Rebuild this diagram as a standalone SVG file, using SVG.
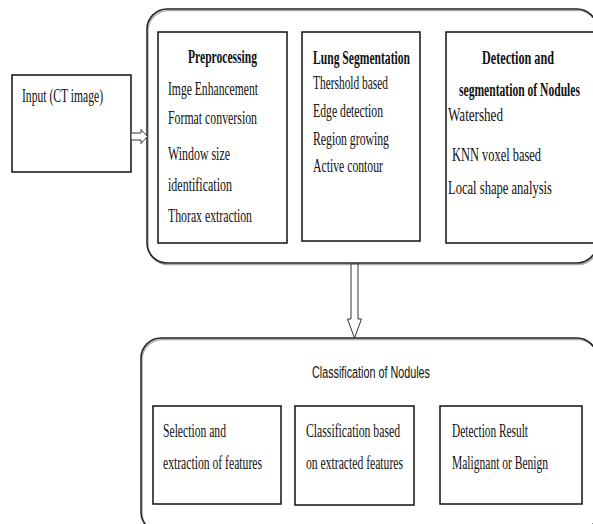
<svg xmlns="http://www.w3.org/2000/svg" width="593" height="524" viewBox="0 0 593 524">
<style>
.box{fill:#fff;stroke:#111;stroke-width:1.5}
.cont{fill:none;stroke:#222;stroke-width:1.5}
.shadow{fill:none;stroke:#aaa;stroke-width:1.5}
.t{font-family:"Liberation Serif","Times New Roman",serif;font-size:18.5px;fill:#111}
.b{font-family:"Liberation Serif","Times New Roman",serif;font-size:18.5px;font-weight:bold;fill:#111}
.s{font-family:"Liberation Sans",Arial,sans-serif;font-size:16px;fill:#111}
.arr{fill:#fff;stroke:#333;stroke-width:1}
</style>
<rect width="593" height="524" fill="#fff"/>
<g id="stage1">
<rect class="shadow" x="148" y="10.5" width="450" height="254" rx="20"/>
<rect class="cont" x="147" y="9" width="450" height="254" rx="20"/>
</g>
<g id="stage2">
<rect class="shadow" x="142" y="339.5" width="456" height="194" rx="20"/>
<rect class="cont" x="141" y="338" width="456" height="194" rx="20"/>
<text class="s" x="312" y="378" textLength="118" lengthAdjust="spacingAndGlyphs">Classification of Nodules</text>
</g>
<g id="input">
<rect class="box" x="12" y="75" width="119" height="97"/>
<text class="t" x="22" y="102" textLength="81" lengthAdjust="spacingAndGlyphs">Input (CT image)</text>
</g>
<g id="preprocessing">
<rect class="box" x="158" y="32" width="129" height="211"/>
<text class="b" x="188" y="63" textLength="69" lengthAdjust="spacingAndGlyphs">Preprocessing</text>
<text class="t" x="168" y="95" textLength="90" lengthAdjust="spacingAndGlyphs">Imge Enhancement</text>
<text class="t" x="168" y="124" textLength="89" lengthAdjust="spacingAndGlyphs">Format conversion</text>
<text class="t" x="168" y="160" textLength="62" lengthAdjust="spacingAndGlyphs">Window size</text>
<text class="t" x="168" y="191" textLength="64" lengthAdjust="spacingAndGlyphs">identification</text>
<text class="t" x="168" y="222" textLength="84" lengthAdjust="spacingAndGlyphs">Thorax extraction</text>
</g>
<g id="lung-segmentation">
<rect class="box" x="302" y="32" width="118" height="209"/>
<text class="b" x="313" y="64" textLength="97" lengthAdjust="spacingAndGlyphs">Lung Segmentation</text>
<text class="t" x="313" y="89" textLength="75" lengthAdjust="spacingAndGlyphs">Thershold based</text>
<text class="t" x="313" y="117" textLength="70" lengthAdjust="spacingAndGlyphs">Edge detection</text>
<text class="t" x="313" y="145" textLength="76" lengthAdjust="spacingAndGlyphs">Region growing</text>
<text class="t" x="313" y="172" textLength="70" lengthAdjust="spacingAndGlyphs">Active contour</text>
</g>
<g id="detection">
<rect class="box" x="446" y="32" width="152" height="211"/>
<text class="b" x="482" y="64" textLength="72" lengthAdjust="spacingAndGlyphs">Detection and</text>
<text class="b" x="459" y="96" textLength="121" lengthAdjust="spacingAndGlyphs">segmentation of Nodules</text>
<text class="t" x="448" y="121" textLength="55" lengthAdjust="spacingAndGlyphs">Watershed</text>
<text class="t" x="452" y="161" textLength="89" lengthAdjust="spacingAndGlyphs">KNN voxel based</text>
<text class="t" x="448" y="194" textLength="104" lengthAdjust="spacingAndGlyphs">Local shape analysis</text>
</g>
<g id="features">
<rect class="box" x="153" y="406" width="128" height="98"/>
<text class="t" x="163" y="437" textLength="63" lengthAdjust="spacingAndGlyphs">Selection and</text>
<text class="t" x="163" y="469" textLength="99" lengthAdjust="spacingAndGlyphs">extraction of features</text>
</g>
<g id="classification">
<rect class="box" x="295" y="406" width="119" height="99"/>
<text class="t" x="306" y="437" textLength="94" lengthAdjust="spacingAndGlyphs">Classification based</text>
<text class="t" x="306" y="469" textLength="97" lengthAdjust="spacingAndGlyphs">on extracted features</text>
</g>
<g id="result">
<rect class="box" x="440" y="406" width="142" height="98"/>
<text class="t" x="452" y="437" textLength="76" lengthAdjust="spacingAndGlyphs">Detection Result</text>
<text class="t" x="452" y="469" textLength="96" lengthAdjust="spacingAndGlyphs">Malignant or Benign</text>
</g>
<g id="connectors">
<polygon class="arr" points="131,133 141,133 141,129.5 147.5,136.5 141,143.5 141,140 131,140"/>
<polygon class="arr" points="351,264 358,264 358,319 361.5,319 354.5,338 347.5,319 351,319"/>
</g>
</svg>
